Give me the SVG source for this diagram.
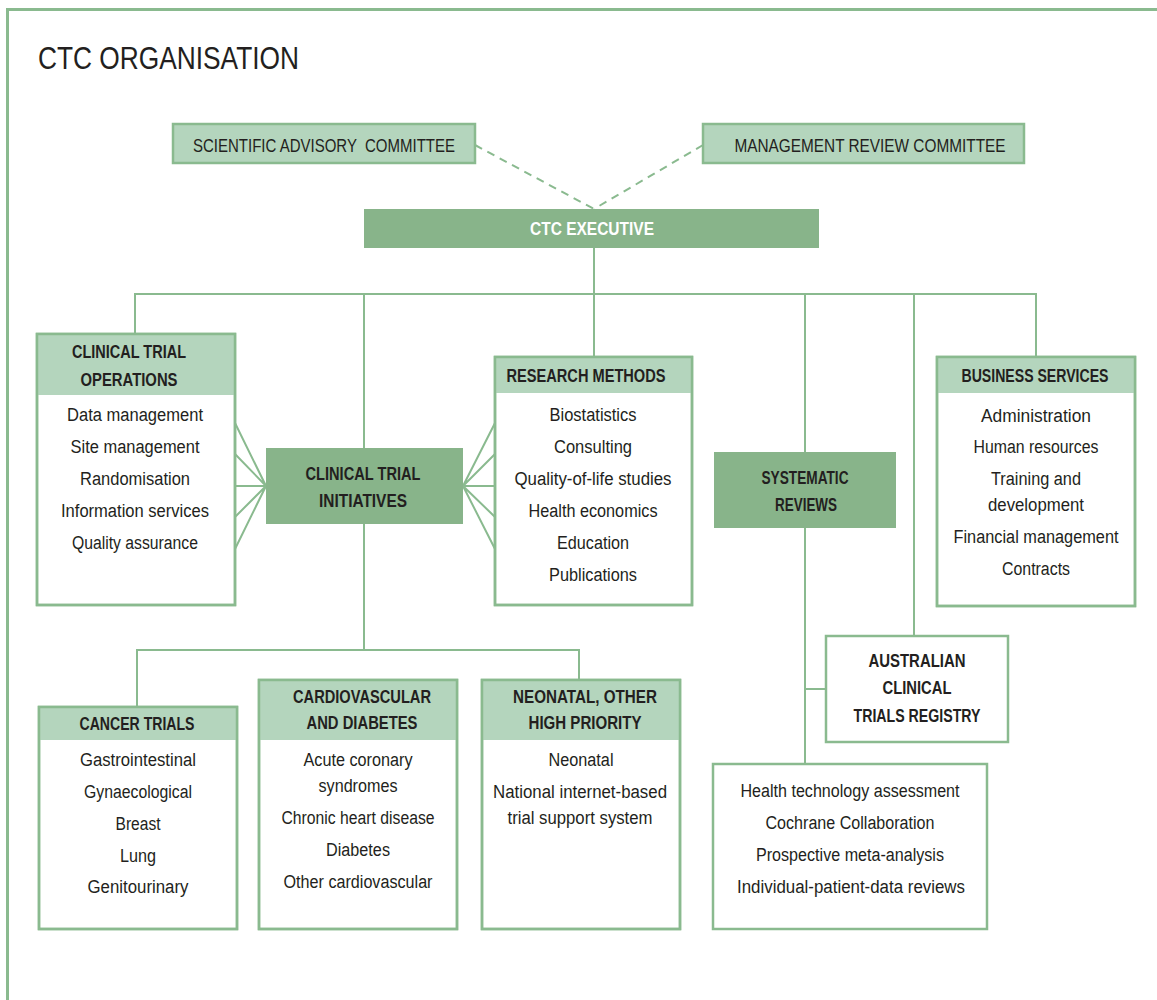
<svg xmlns="http://www.w3.org/2000/svg" width="1157" height="1000" viewBox="0 0 1157 1000">
<style>
.t{font-family:"Liberation Sans",Arial,sans-serif;font-size:18px;fill:#231f20;text-anchor:middle}
.b{font-weight:bold}
.w{fill:#ffffff}
.pre{white-space:pre}
.box{fill:#ffffff;stroke:#8aba8f;stroke-width:2.5}
.lt{fill:#b4d5bd}
.ltb{fill:#b4d5bd;stroke:#8aba8f;stroke-width:2.5}
.md{fill:#88b48a}
.ol{fill:none;stroke:#8aba8f;stroke-width:2.5}
.c{fill:none;stroke:#8aba8f;stroke-width:2}
.d{fill:none;stroke:#8aba8f;stroke-width:2;stroke-dasharray:8 6}
</style>
<rect width="1157" height="1000" fill="#ffffff"/>
<path d="M7.5,1000 V9.5 H1157" fill="none" stroke="#8aba8f" stroke-width="3"/>
<text class="t" x="38" y="69" style="font-size:31px;text-anchor:start" textLength="261" lengthAdjust="spacingAndGlyphs">CTC ORGANISATION</text>

<g id="connectors">
<path class="d" d="M475,145 L594,209 M703,145 L594,209"/>
<path class="c" d="M594,248 V294 M135,334 V294 H1036 V357 M364,294 V448 M594,294 V357 M805,294 V452 M914,294 V636"/>
<path class="c" d="M364,524 V650 M137,707 V650 H579 V680 M805,528 V764 M805,689 H826"/>
<path class="c" d="M235,423 L266,486 M235,454 L266,486 M235,486 L266,486 M235,517 L266,486 M235,549 L266,486"/>
<path class="c" d="M495,423 L463,486 M495,454 L463,486 M495,486 L463,486 M495,517 L463,486 M495,549 L463,486"/>
</g>

<g id="sac">
<rect class="ltb" x="173" y="124" width="302" height="39"/>
<text class="t pre" x="324" y="152" textLength="262" lengthAdjust="spacingAndGlyphs">SCIENTIFIC ADVISORY  COMMITTEE</text>
</g>
<g id="mrc">
<rect class="ltb" x="703" y="124" width="321" height="39"/>
<text class="t" x="870" y="152" textLength="271" lengthAdjust="spacingAndGlyphs">MANAGEMENT REVIEW COMMITTEE</text>
</g>
<g id="exec">
<rect class="md" x="364" y="209" width="455" height="39"/>
<text class="t b w" x="592" y="235" textLength="124" lengthAdjust="spacingAndGlyphs">CTC EXECUTIVE</text>
</g>

<g id="cto">
<rect class="box" x="37" y="334" width="198" height="271"/>
<rect class="lt" x="37" y="334" width="198" height="61"/>
<rect class="ol" x="37" y="334" width="198" height="271"/>
<text class="t b" x="129" y="358" textLength="114" lengthAdjust="spacingAndGlyphs">CLINICAL TRIAL</text>
<text class="t b" x="129" y="386" textLength="97" lengthAdjust="spacingAndGlyphs">OPERATIONS</text>
<text class="t" x="135" y="421" textLength="136" lengthAdjust="spacingAndGlyphs">Data management</text>
<text class="t" x="135" y="453" textLength="129" lengthAdjust="spacingAndGlyphs">Site management</text>
<text class="t" x="135" y="485" textLength="110" lengthAdjust="spacingAndGlyphs">Randomisation</text>
<text class="t" x="135" y="517" textLength="148" lengthAdjust="spacingAndGlyphs">Information services</text>
<text class="t" x="135" y="549" textLength="126" lengthAdjust="spacingAndGlyphs">Quality assurance</text>
</g>

<g id="cti">
<rect class="md" x="266" y="448" width="197" height="76"/>
<text class="t b" x="363" y="480" textLength="115" lengthAdjust="spacingAndGlyphs">CLINICAL TRIAL</text>
<text class="t b" x="363" y="507" textLength="88" lengthAdjust="spacingAndGlyphs">INITIATIVES</text>
</g>

<g id="rm">
<rect class="box" x="495" y="357" width="197" height="248"/>
<rect class="lt" x="495" y="357" width="197" height="36"/>
<rect class="ol" x="495" y="357" width="197" height="248"/>
<text class="t b" x="586" y="382" textLength="159" lengthAdjust="spacingAndGlyphs">RESEARCH METHODS</text>
<text class="t" x="593" y="421" textLength="87" lengthAdjust="spacingAndGlyphs">Biostatistics</text>
<text class="t" x="593" y="453" textLength="78" lengthAdjust="spacingAndGlyphs">Consulting</text>
<text class="t" x="593" y="485" textLength="157" lengthAdjust="spacingAndGlyphs">Quality-of-life studies</text>
<text class="t" x="593" y="517" textLength="129" lengthAdjust="spacingAndGlyphs">Health economics</text>
<text class="t" x="593" y="549" textLength="72" lengthAdjust="spacingAndGlyphs">Education</text>
<text class="t" x="593" y="581" textLength="88" lengthAdjust="spacingAndGlyphs">Publications</text>
</g>

<g id="sr">
<rect class="md" x="714" y="452" width="182" height="76"/>
<text class="t b" x="805" y="484" textLength="87" lengthAdjust="spacingAndGlyphs">SYSTEMATIC</text>
<text class="t b" x="806" y="511" textLength="62" lengthAdjust="spacingAndGlyphs">REVIEWS</text>
</g>

<g id="bs">
<rect class="box" x="937" y="357" width="198" height="249"/>
<rect class="lt" x="937" y="357" width="198" height="36"/>
<rect class="ol" x="937" y="357" width="198" height="249"/>
<text class="t b" x="1035" y="382" textLength="147" lengthAdjust="spacingAndGlyphs">BUSINESS SERVICES</text>
<text class="t" x="1036" y="422" textLength="110" lengthAdjust="spacingAndGlyphs">Administration</text>
<text class="t" x="1036" y="453" textLength="125" lengthAdjust="spacingAndGlyphs">Human resources</text>
<text class="t" x="1036" y="485" textLength="90" lengthAdjust="spacingAndGlyphs">Training and</text>
<text class="t" x="1036" y="511" textLength="96" lengthAdjust="spacingAndGlyphs">development</text>
<text class="t" x="1036" y="543" textLength="165" lengthAdjust="spacingAndGlyphs">Financial management</text>
<text class="t" x="1036" y="575" textLength="68" lengthAdjust="spacingAndGlyphs">Contracts</text>
</g>

<g id="actr">
<rect class="box" x="826" y="636" width="182" height="106"/>
<text class="t b" x="917" y="667" textLength="97" lengthAdjust="spacingAndGlyphs">AUSTRALIAN</text>
<text class="t b" x="917" y="694" textLength="69" lengthAdjust="spacingAndGlyphs">CLINICAL</text>
<text class="t b" x="917" y="722" textLength="127" lengthAdjust="spacingAndGlyphs">TRIALS REGISTRY</text>
</g>

<g id="srlist">
<rect class="box" x="713" y="764" width="274" height="165"/>
<text class="t" x="850" y="797" textLength="219" lengthAdjust="spacingAndGlyphs">Health technology assessment</text>
<text class="t" x="850" y="829" textLength="169" lengthAdjust="spacingAndGlyphs">Cochrane Collaboration</text>
<text class="t" x="850" y="861" textLength="188" lengthAdjust="spacingAndGlyphs">Prospective meta-analysis</text>
<text class="t" x="851" y="893" textLength="228" lengthAdjust="spacingAndGlyphs">Individual-patient-data reviews</text>
</g>

<g id="cancer">
<rect class="box" x="39" y="707" width="198" height="222"/>
<rect class="lt" x="39" y="707" width="198" height="33"/>
<rect class="ol" x="39" y="707" width="198" height="222"/>
<text class="t b" x="137" y="730" textLength="115" lengthAdjust="spacingAndGlyphs">CANCER TRIALS</text>
<text class="t" x="138" y="766" textLength="116" lengthAdjust="spacingAndGlyphs">Gastrointestinal</text>
<text class="t" x="138" y="798" textLength="108" lengthAdjust="spacingAndGlyphs">Gynaecological</text>
<text class="t" x="138" y="830" textLength="45" lengthAdjust="spacingAndGlyphs">Breast</text>
<text class="t" x="138" y="862" textLength="36" lengthAdjust="spacingAndGlyphs">Lung</text>
<text class="t" x="138" y="893" textLength="101" lengthAdjust="spacingAndGlyphs">Genitourinary</text>
</g>

<g id="cv">
<rect class="box" x="259" y="680" width="198" height="249"/>
<rect class="lt" x="259" y="680" width="198" height="60"/>
<rect class="ol" x="259" y="680" width="198" height="249"/>
<text class="t b" x="362" y="703" textLength="138" lengthAdjust="spacingAndGlyphs">CARDIOVASCULAR</text>
<text class="t b" x="362" y="729" textLength="111" lengthAdjust="spacingAndGlyphs">AND DIABETES</text>
<text class="t" x="358" y="766" textLength="109" lengthAdjust="spacingAndGlyphs">Acute coronary</text>
<text class="t" x="358" y="792" textLength="79" lengthAdjust="spacingAndGlyphs">syndromes</text>
<text class="t" x="358" y="824" textLength="153" lengthAdjust="spacingAndGlyphs">Chronic heart disease</text>
<text class="t" x="358" y="856" textLength="64" lengthAdjust="spacingAndGlyphs">Diabetes</text>
<text class="t" x="358" y="888" textLength="149" lengthAdjust="spacingAndGlyphs">Other cardiovascular</text>
</g>

<g id="neo">
<rect class="box" x="482" y="680" width="198" height="249"/>
<rect class="lt" x="482" y="680" width="198" height="60"/>
<rect class="ol" x="482" y="680" width="198" height="249"/>
<text class="t b" x="585" y="703" textLength="144" lengthAdjust="spacingAndGlyphs">NEONATAL, OTHER</text>
<text class="t b" x="585" y="729" textLength="113" lengthAdjust="spacingAndGlyphs">HIGH PRIORITY</text>
<text class="t" x="581" y="766" textLength="65" lengthAdjust="spacingAndGlyphs">Neonatal</text>
<text class="t" x="580" y="798" textLength="174" lengthAdjust="spacingAndGlyphs">National internet-based</text>
<text class="t" x="580" y="824" textLength="145" lengthAdjust="spacingAndGlyphs">trial support system</text>
</g>
</svg>
